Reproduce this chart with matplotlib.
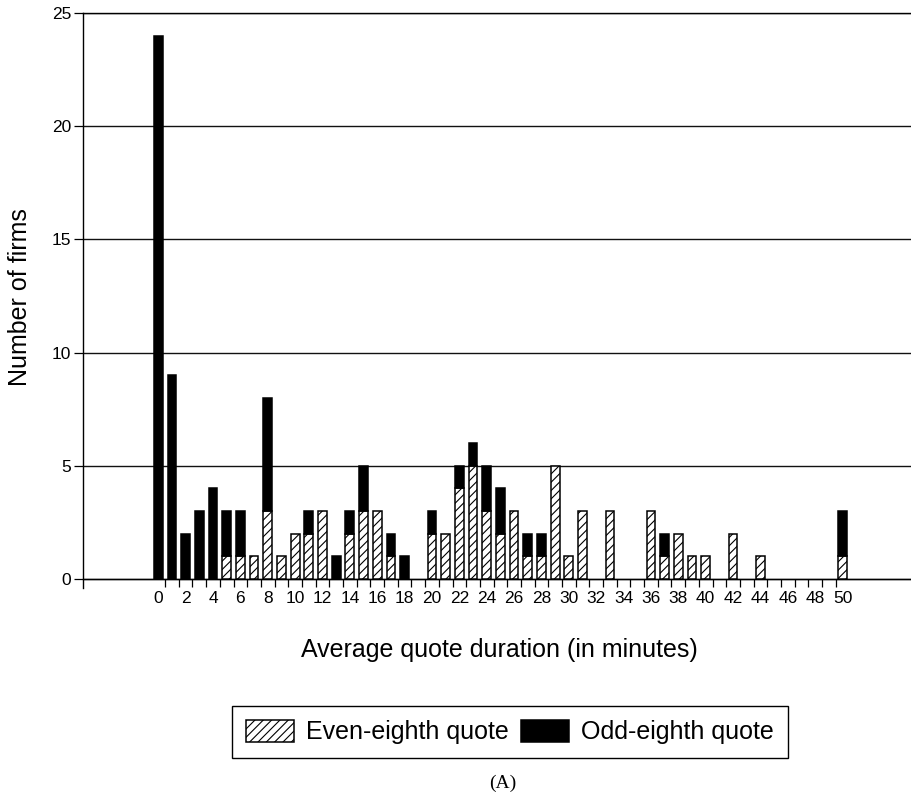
import matplotlib
matplotlib.use('Agg')
import matplotlib.pyplot as plt
from matplotlib.patches import Patch
import numpy as np

plt.rcParams['font.family'] = ['Liberation Sans', 'DejaVu Sans']
plt.rcParams['hatch.linewidth'] = 0.8

# average quote duration in minutes (one bar per minute)
durations = list(range(51))
even_eighth = [0, 0, 0, 0, 0, 1, 1, 1, 3, 1,
               2, 2, 3, 0, 2, 3, 3, 1, 0, 0,
               2, 2, 4, 5, 3, 2, 3, 1, 1, 5,
               1, 3, 0, 3, 0, 0, 3, 1, 2, 1,
               1, 0, 2, 0, 1, 0, 0, 0, 0, 0,
               1]
odd_eighth = [24, 9, 2, 3, 4, 2, 2, 0, 5, 0,
              0, 1, 0, 1, 1, 2, 0, 1, 1, 0,
              1, 0, 1, 1, 2, 2, 0, 1, 1, 0,
              0, 0, 0, 0, 0, 0, 0, 1, 0, 0,
              0, 0, 0, 0, 0, 0, 0, 0, 0, 0,
              2]
x_labels = list(range(0, 51, 2))
y_ticks = [0, 5, 10, 15, 20, 25]

x = np.array(durations)
ev = np.array(even_eighth)
od = np.array(odd_eighth)

fig = plt.figure(figsize=(9.11, 7.93), dpi=100)
ax = fig.add_axes([83/911, 1 - 588/793, (911 - 83)/911, (588 - 13)/793])

w = 0.64
m = ev > 0
ax.bar(x[m], ev[m], width=w, facecolor='white', edgecolor='black',
       hatch='////', linewidth=1.1, zorder=3)
m = od > 0
ax.bar(x[m], od[m], bottom=ev[m], width=w, facecolor='black',
       edgecolor='black', linewidth=1.1, zorder=3)

ax.set_xlim(-5.5, 55)
ax.set_ylim(-0.4, 25)

ax.set_yticks(y_ticks)
ax.yaxis.grid(True, color='#111111', linewidth=1.0)
ax.set_axisbelow(True)
ax.tick_params(axis='y', direction='out', length=6.5, width=0.9,
               labelsize=12.5, pad=2)

ax.set_xticks(x_labels)
ax.set_xticks(np.arange(0.5, 50, 1), minor=True)
ax.tick_params(axis='x', which='major', length=0, labelsize=12.5, pad=9)
ax.tick_params(axis='x', which='minor', direction='out', length=6, width=0.9)

ax.spines['right'].set_visible(False)
ax.spines['bottom'].set_position(('data', 0))
for s in ['left', 'bottom', 'top']:
    ax.spines[s].set_linewidth(1.0)

fig.text(499/911, 1 - 650/793, 'Average quote duration (in minutes)',
         ha='center', va='center', fontsize=18)
fig.text(20/911, 1 - 297/793, 'Number of firms', rotation=90,
         ha='center', va='center', fontsize=18)

handles = [Patch(facecolor='white', edgecolor='black', hatch='////', linewidth=1.1),
           Patch(facecolor='black', edgecolor='black', linewidth=1.1)]
leg = fig.legend(handles, ['Even-eighth quote', 'Odd-eighth quote'], ncol=2,
                 loc='center', bbox_to_anchor=(510/911, 1 - 732/793),
                 fontsize=18, handlelength=1.9, handleheight=1.03,
                 handletextpad=0.5, columnspacing=0.5, borderpad=0.55,
                 fancybox=False, edgecolor='black', framealpha=1)
leg.get_frame().set_linewidth(1.0)

fig.text(503/911, 1 - 783/793, '(A)', ha='center', va='center',
         fontsize=14, family=['Liberation Serif', 'DejaVu Serif'])

fig.savefig('out.png', dpi=100)
